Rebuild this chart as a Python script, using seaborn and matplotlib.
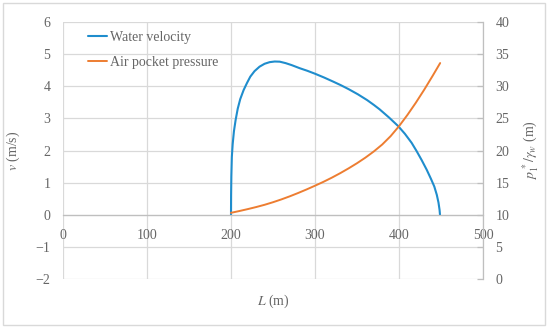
import matplotlib
matplotlib.use("Agg")
import matplotlib.pyplot as plt
import seaborn as sns
import pandas as pd
from matplotlib.patches import Rectangle

# valores
L_vel = [200, 200.1, 200.4, 201, 202, 203.5, 205.5, 208, 211, 215, 219, 223, 228,
         234, 240, 246, 252, 258, 265, 272, 282, 291, 300, 311, 322, 331, 340, 351,
         362, 370, 377, 388, 399, 407, 415, 421, 427, 433, 438, 442, 445, 447,
         448.3, 448.8]
v_vel = [0, 0.6, 1.2, 1.8, 2.2, 2.6, 2.95, 3.3, 3.6, 3.88, 4.1, 4.30, 4.47, 4.61,
         4.70, 4.75, 4.77, 4.765, 4.72, 4.66, 4.56, 4.48, 4.39, 4.27, 4.14, 4.03,
         3.91, 3.75, 3.57, 3.42, 3.28, 3.03, 2.76, 2.52, 2.24, 1.98, 1.70, 1.40,
         1.12, 0.88, 0.62, 0.38, 0.15, 0]

L_pres = [200, 210, 220, 230, 240, 250, 260, 270, 280, 290, 300, 310, 320, 330,
          340, 350, 360, 370, 380, 390, 400, 410, 420, 430, 440, 449]
p_pres = [10.3, 10.58, 10.88, 11.2, 11.55, 11.95, 12.39, 12.87, 13.39, 13.94,
          14.52, 15.12, 15.77, 16.47, 17.22, 18.02, 18.89, 19.85, 20.93, 22.23,
          23.78, 25.53, 27.43, 29.46, 31.61, 33.61]

x_ticks = [0, 100, 200, 300, 400, 500]
v_ticks = [-2, -1, 0, 1, 2, 3, 4, 5, 6]
p_ticks = [0, 5, 10, 15, 20, 25, 30, 35, 40]

BLUE = "#1F8DCD"
ORANGE = "#ED7D31"
GRAY = "#666666"
GRID = "#D9D9D9"

sns.set_theme(style="white")
plt.rcParams['font.family'] = ['Liberation Serif', 'DejaVu Serif']
plt.rcParams['mathtext.fontset'] = 'stix'

df_v = pd.DataFrame({'L': L_vel, 'v': v_vel})
df_p = pd.DataFrame({'L': L_pres, 'p': p_pres})

fig = plt.figure(figsize=(5.5, 3.28), dpi=100)
ax = fig.add_axes([63 / 550, 1 - 279 / 328, 420 / 550, 257 / 328])
ax2 = ax.twinx()

sns.lineplot(data=df_v, x='L', y='v', ax=ax, color=BLUE, lw=1.5, sort=False,
             estimator=None, label='Water velocity', legend=False)
sns.lineplot(data=df_p, x='L', y='p', ax=ax2, color=ORANGE, lw=1.4, sort=False,
             estimator=None, label='Air pocket pressure', legend=False)

ax.set_xlim(0, 500)
ax.set_ylim(-2, 6)
ax2.set_ylim(0, 40)
ax.set_xticks(x_ticks)
ax.set_yticks(v_ticks)
ax2.set_yticks(p_ticks)
ax.set_yticklabels([str(t).replace('-', '\u2212') for t in v_ticks])

ax.grid(True, color=GRID, lw=0.9)
ax.set_axisbelow(True)

for s in ['top', 'left', 'right']:
    ax.spines[s].set_visible(False)
ax.spines['bottom'].set_position(('data', 0))
ax.spines['bottom'].set_color('#BFBFBF')
ax.spines['bottom'].set_linewidth(0.9)
for s in ['top', 'left', 'bottom']:
    ax2.spines[s].set_visible(False)
ax2.spines['right'].set_color('#BFBFBF')
ax2.spines['right'].set_linewidth(0.9)

ax.tick_params(axis='x', length=0, pad=10, labelsize=10, labelcolor=GRAY)
ax.tick_params(axis='y', length=0, pad=9, labelsize=10, labelcolor=GRAY)
ax2.tick_params(axis='y', direction='in', length=4, width=0.9, color='#BFBFBF',
                pad=9, labelsize=10, labelcolor=GRAY)

ax.set_xlabel('$L$ (m)', fontsize=10, color=GRAY)
ax.xaxis.set_label_coords(0.5, -0.055)
ax.set_ylabel('$v$ (m/s)', fontsize=10, color=GRAY)
ax.yaxis.set_label_coords(-0.098, 0.5)
ax2.set_ylabel(r'$p_1^{\,*}/\gamma_w$ (m)', fontsize=10, color=GRAY, rotation=90)
ax2.yaxis.set_label_coords(1.09, 0.5)

h1, l1 = ax.get_legend_handles_labels()
h2, l2 = ax2.get_legend_handles_labels()
ax2.legend(h1 + h2, l1 + l2, loc='upper left', bbox_to_anchor=(25 / 420, 1 - 9 / 257),
           frameon=False, fontsize=10, labelcolor=GRAY, handlelength=1.4,
           handletextpad=0.15, labelspacing=0.85, borderaxespad=0, borderpad=0)

fig.patches.append(Rectangle((3 / 550, 3 / 328), 542 / 550, 322 / 328,
                             transform=fig.transFigure, fill=False,
                             edgecolor=GRID, lw=1))

fig.savefig('out.png', dpi=100)
